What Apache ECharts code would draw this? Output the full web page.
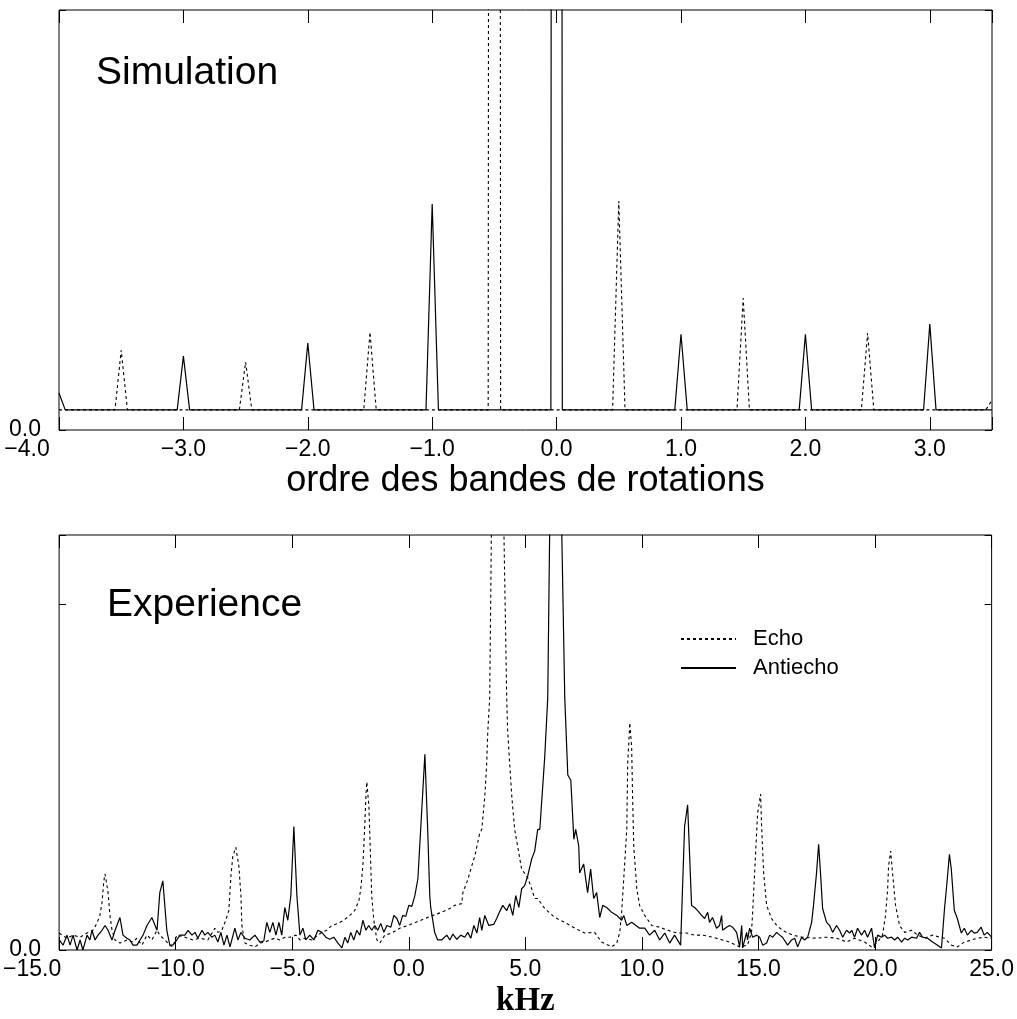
<!DOCTYPE html>
<html><head><meta charset="utf-8">
<script src="https://cdn.jsdelivr.net/npm/echarts@6/dist/echarts.min.js"></script>
<style>html,body{margin:0;padding:0;background:#fff}#c{width:1017px;height:1019px}</style>
</head><body><div id="c"></div>
<script>
// ---------- Simulation panel (x: rotational sideband order) ----------
const simTicks = [-4, -3, -2, -1, 0, 1, 2, 3];
const simEcho = [[-4.0,0.048],[-3.55,0.048],[-3.5,0.19],[-3.45,0.048],[-2.55,0.048],[-2.5,0.162],[-2.45,0.048],
  [-1.55,0.048],[-1.5,0.233],[-1.45,0.048],[-0.55,0.048],[-0.5,20],[-0.45,0.048],[0.45,0.048],[0.5,0.545],[0.55,0.048],
  [1.45,0.048],[1.5,0.314],[1.55,0.048],[2.45,0.048],[2.5,0.231],[2.55,0.048],[3.45,0.048],[3.5,0.071]];
const simAntiecho = [[-4.0,0.088],[-3.95,0.048],[-3.05,0.048],[-3.0,0.176],[-2.95,0.048],[-2.05,0.048],[-2.0,0.207],[-1.95,0.048],
  [-1.05,0.048],[-1.0,0.538],[-0.95,0.048],[-0.046,0.048],[0.0,20],[0.046,0.048],[0.95,0.048],[1.0,0.228],[1.05,0.048],
  [1.95,0.048],[2.0,0.228],[2.05,0.048],[2.95,0.048],[3.0,0.252],[3.05,0.048],[3.5,0.048]];

// ---------- Experiment panel (x: kHz) ----------
const expTicks = [-15, -10, -5, 0, 5, 10, 15, 20, 25];
const echoExp = [[-15.0,0.049],[-14.66,0.034],[-14.4,0.043],[-14.1,0.037],[-13.8,0.049],[-13.55,0.057],[-13.38,0.077],[-13.25,0.1],
  [-13.16,0.137],[-13.08,0.2],[-13.03,0.22],[-12.98,0.2],[-12.9,0.166],[-12.82,0.1],[-12.73,0.057],[-12.6,0.029],[-12.39,0.02],
  [-12.09,0.029],[-11.83,0.023],[-11.66,0.034],[-11.45,0.014],[-11.23,0.043],[-11.02,0.029],[-10.8,0.057],[-10.68,0.043],
  [-10.46,0.029],[-10.25,0.014],[-10.12,0.009],[-9.95,0.043],[-9.6,0.037],[-9.26,0.029],[-8.96,0.034],[-8.62,0.029],
  [-8.32,0.063],[-8.19,0.051],[-8.02,0.057],[-7.85,0.086],[-7.72,0.114],[-7.63,0.214],[-7.55,0.27],[-7.42,0.297],[-7.29,0.243],
  [-7.2,0.157],[-7.16,0.071],[-7.03,0.02],[-6.82,0.014],[-6.6,0.009],[-6.39,0.02],[-6.17,0.023],[-5.96,0.029],[-5.75,0.034],
  [-5.53,0.029],[-5.32,0.037],[-5.1,0.037],[-4.84,0.043],[-4.67,0.029],[-4.46,0.034],[-4.16,0.029],[-3.9,0.043],[-3.73,0.051],
  [-3.52,0.057],[-3.3,0.071],[-3.04,0.077],[-2.79,0.086],[-2.53,0.1],[-2.32,0.114],[-2.14,0.143],[-2.06,0.177],[-1.97,0.243],
  [-1.89,0.357],[-1.84,0.443],[-1.8,0.486],[-1.71,0.414],[-1.67,0.329],[-1.63,0.243],[-1.59,0.157],[-1.5,0.086],[-1.37,0.029],
  [-1.24,0.02],[-1.03,0.043],[-0.73,0.049],[-0.39,0.063],[-0.04,0.071],[0.3,0.08],[0.69,0.091],[1.03,0.1],[1.41,0.109],
  [1.76,0.12],[1.97,0.129],[2.27,0.134],[2.32,0.166],[2.53,0.203],[2.7,0.243],[2.83,0.271],[3.04,0.337],[3.13,0.349],
  [3.26,0.443],[3.34,0.537],[3.39,0.634],[3.47,0.729],[3.55,1.25],[3.7,3.0],[3.9,3.0],[4.07,1.25],[4.2,0.729],[4.24,0.634],
  [4.33,0.537],[4.42,0.443],[4.54,0.349],[4.84,0.234],[5.1,0.209],[5.27,0.177],[5.4,0.149],[5.53,0.149],[5.83,0.12],
  [6.26,0.094],[6.69,0.08],[7.12,0.063],[7.55,0.049],[7.97,0.051],[8.27,0.023],[8.7,0.009],[8.92,0.02],[9.05,0.051],
  [9.13,0.109],[9.22,0.206],[9.35,0.349],[9.39,0.537],[9.48,0.657],[9.56,0.586],[9.6,0.443],[9.65,0.3],[9.78,0.177],
  [9.9,0.129],[10.12,0.1],[10.42,0.071],[10.76,0.066],[11.1,0.057],[11.53,0.049],[11.92,0.049],[12.26,0.043],[12.6,0.043],
  [13.03,0.037],[13.46,0.029],[13.76,0.023],[14.19,0.009],[14.53,0.014],[14.7,0.051],[14.75,0.109],[14.87,0.271],[14.96,0.394],
  [15.09,0.451],[15.13,0.366],[15.22,0.223],[15.35,0.129],[15.56,0.091],[15.78,0.071],[16.03,0.057],[16.46,0.043],[16.89,0.037],
  [17.49,0.034],[17.92,0.037],[18.35,0.034],[18.78,0.023],[19.12,0.034],[19.55,0.023],[19.85,0.009],[20.11,0.023],[20.32,0.043],
  [20.45,0.1],[20.54,0.177],[20.58,0.243],[20.67,0.286],[20.75,0.223],[20.88,0.129],[21.05,0.071],[21.27,0.051],[21.57,0.057],
  [21.83,0.043],[22.13,0.034],[22.47,0.043],[22.77,0.037],[22.98,0.034],[23.28,0.014],[23.53,0.009],[23.83,0.023],[24.13,0.029],
  [24.38,0.034],[24.68,0.037],[25.0,0.034]];
const antiechoExp = [[-15.0,0.03],[-14.96,0.029],[-14.83,0.014],[-14.66,0.043],[-14.53,0.014],[-14.4,0.043],[-14.23,0.0],
  [-14.1,0.029],[-13.98,0.0],[-13.8,0.043],[-13.68,0.029],[-13.59,0.057],[-13.46,0.029],[-13.33,0.043],[-13.16,0.057],
  [-13.03,0.071],[-12.9,0.057],[-12.73,0.029],[-12.6,0.057],[-12.39,0.094],[-12.26,0.043],[-12.09,0.034],[-11.96,0.029],
  [-11.83,0.014],[-11.66,0.014],[-11.53,0.029],[-11.4,0.043],[-11.23,0.071],[-11.02,0.094],[-10.8,0.057],[-10.68,0.166],
  [-10.55,0.2],[-10.38,0.057],[-10.25,0.014],[-10.12,0.014],[-9.95,0.029],[-9.82,0.043],[-9.6,0.043],[-9.47,0.057],[-9.3,0.043],
  [-9.17,0.051],[-9.05,0.034],[-8.87,0.057],[-8.75,0.043],[-8.62,0.051],[-8.45,0.037],[-8.32,0.043],[-8.19,0.023],[-8.06,0.051],
  [-7.93,0.014],[-7.8,0.043],[-7.67,0.009],[-7.46,0.063],[-7.33,0.029],[-7.2,0.051],[-7.03,0.034],[-6.82,0.029],[-6.6,0.043],
  [-6.39,0.023],[-6.22,0.026],[-6.09,0.08],[-5.96,0.051],[-5.83,0.08],[-5.7,0.043],[-5.57,0.08],[-5.45,0.043],[-5.32,0.123],
  [-5.19,0.086],[-5.06,0.157],[-4.93,0.357],[-4.8,0.157],[-4.67,0.043],[-4.54,0.063],[-4.42,0.029],[-4.25,0.043],[-4.07,0.029],
  [-3.9,0.057],[-3.73,0.051],[-3.56,0.037],[-3.39,0.031],[-3.22,0.037],[-3.04,0.02],[-2.87,0.006],[-2.74,0.037],[-2.62,0.02],
  [-2.49,0.051],[-2.36,0.029],[-2.23,0.057],[-2.1,0.043],[-1.97,0.086],[-1.84,0.057],[-1.72,0.071],[-1.59,0.057],[-1.46,0.071],
  [-1.33,0.057],[-1.2,0.077],[-1.07,0.051],[-0.94,0.071],[-0.77,0.066],[-0.64,0.1],[-0.51,0.091],[-0.39,0.071],[-0.26,0.1],
  [-0.13,0.097],[0.0,0.129],[0.13,0.126],[0.26,0.157],[0.39,0.206],[0.51,0.349],[0.69,0.566],[0.81,0.349],[0.9,0.157],
  [0.94,0.123],[1.11,0.051],[1.24,0.029],[1.41,0.029],[1.63,0.043],[1.76,0.029],[1.89,0.046],[2.06,0.031],[2.23,0.043],
  [2.4,0.037],[2.53,0.051],[2.66,0.034],[2.79,0.071],[2.92,0.049],[3.04,0.094],[3.13,0.057],[3.26,0.1],[3.43,0.071],
  [3.64,0.074],[3.77,0.091],[3.9,0.111],[4.03,0.129],[4.2,0.114],[4.33,0.134],[4.46,0.1],[4.59,0.157],[4.72,0.123],
  [4.84,0.177],[4.97,0.186],[5.1,0.214],[5.27,0.263],[5.4,0.286],[5.53,0.349],[5.62,0.349],[5.83,0.557],[5.96,0.729],
  [6.05,1.25],[6.2,3.0],[6.4,3.0],[6.55,1.25],[6.69,0.729],[6.82,0.506],[6.95,0.491],[7.08,0.32],[7.16,0.349],[7.29,0.3],
  [7.33,0.223],[7.5,0.249],[7.67,0.166],[7.8,0.234],[7.93,0.149],[8.06,0.166],[8.19,0.094],[8.32,0.129],[8.49,0.123],
  [8.7,0.109],[8.92,0.1],[9.13,0.086],[9.22,0.1],[9.35,0.071],[9.56,0.08],[9.9,0.063],[10.12,0.063],[10.33,0.043],
  [10.55,0.057],[10.76,0.029],[10.98,0.049],[11.19,0.02],[11.4,0.043],[11.66,0.014],[11.83,0.357],[11.96,0.42],[12.13,0.129],
  [12.26,0.123],[12.39,0.114],[12.56,0.1],[12.69,0.091],[12.82,0.109],[12.9,0.08],[13.03,0.094],[13.2,0.063],
  [13.33,0.071],[13.42,0.1],[13.46,0.057],[13.63,0.066],[13.76,0.071],[13.89,0.066],[14.06,0.051],[14.19,0.009],[14.28,0.071],
  [14.32,0.006],[14.49,0.051],[14.53,0.029],[14.62,0.063],[14.75,0.037],[14.92,0.043],[15.05,0.037],[15.18,0.014],[15.35,0.02],
  [15.48,0.043],[15.61,0.037],[15.78,0.051],[15.91,0.043],[16.03,0.037],[16.25,0.014],[16.42,0.029],[16.55,0.034],[16.68,0.009],
  [16.85,0.037],[16.98,0.029],[17.11,0.037],[17.28,0.08],[17.36,0.129],[17.49,0.223],[17.58,0.306],[17.66,0.223],[17.75,0.12],
  [17.92,0.08],[18.05,0.071],[18.18,0.051],[18.35,0.071],[18.48,0.057],[18.61,0.037],[18.78,0.057],[18.91,0.049],[19.0,0.057],
  [19.12,0.037],[19.25,0.063],[19.42,0.043],[19.55,0.057],[19.68,0.037],[19.85,0.063],[19.98,0.006],[20.11,0.043],[20.28,0.037],
  [20.41,0.043],[20.54,0.034],[20.71,0.037],[20.84,0.029],[20.97,0.037],[21.14,0.023],[21.27,0.034],[21.4,0.029],[21.57,0.037],
  [21.78,0.034],[21.91,0.051],[22.04,0.037],[22.25,0.034],[22.47,0.023],[22.68,0.014],[22.85,0.006],[22.98,0.12],[23.1,0.206],
  [23.19,0.277],[23.27,0.234],[23.4,0.114],[23.53,0.091],[23.7,0.049],[23.83,0.063],[23.96,0.043],[24.13,0.057],[24.25,0.049],
  [24.38,0.051],[24.55,0.066],[24.68,0.043],[24.81,0.051],[25.0,0.037]];

const SANS = 'Liberation Sans, Arial, Helvetica, sans-serif';
const fmtNum = v => (v < 0 ? '\u2212' : '') + Math.abs(v).toFixed(1);
const yFmt = v => (v === 0 ? '0.0' : '');

function xAxes(gridIndex, min, max, interval, ticks, firstPad, name, nameStyle, nameGap) {
  const base = { type: 'value', gridIndex, min, max, interval,
    splitLine: { show: false }, axisLine: { show: false, onZero: false },
    axisTick: { show: true, inside: true, length: 13, lineStyle: { color: '#000', width: 1 } } };
  const fmt = v => {
    if (ticks.indexOf(v) < 0) return '';
    return v === ticks[0] ? '{first|' + fmtNum(v) + '}' : fmtNum(v);
  };
  return [
    Object.assign({}, base, { position: 'bottom', name, nameLocation: 'middle', nameGap, nameTextStyle: nameStyle,
      axisLabel: { show: true, formatter: fmt, color: '#000', fontSize: 23, fontFamily: SANS, margin: 8,
        rich: { first: { fontSize: 23, fontFamily: SANS, color: '#000', padding: [0, firstPad, 0, 0] } } } }),
    Object.assign({}, base, { position: 'top', axisLabel: { show: false } })
  ];
}
function yAxes(gridIndex, max, interval) {
  const base = { type: 'value', gridIndex, min: 0, max, interval,
    splitLine: { show: false }, axisLine: { show: false, onZero: false },
    axisTick: { show: true, inside: true, length: 7, lineStyle: { color: '#000', width: 1 } } };
  return [
    Object.assign({}, base, { position: 'left', axisLabel: { show: true, formatter: yFmt, color: '#000', fontSize: 23, fontFamily: SANS, margin: 18 } }),
    Object.assign({}, base, { position: 'right', axisLabel: { show: false } })
  ];
}

const dotted = { color: '#000', width: 1.1, type: [3, 3] };
const solid = { color: '#000', width: 1.2, type: 'solid' };

const option = {
  animation: false,
  backgroundColor: '#fff',
  title: [
    { text: 'Simulation', left: 96, top: 54, padding: 0,
      textStyle: { fontSize: 39, fontWeight: 'normal', fontFamily: SANS, color: '#000' } },
    { text: 'Experience', left: 107, top: 586, padding: 0,
      textStyle: { fontSize: 39, fontWeight: 'normal', fontFamily: SANS, color: '#000' } }
  ],
  legend: {
    data: ['Echo', 'Antiecho'], orient: 'vertical', left: 680, top: 628, padding: 0,
    itemWidth: 55, itemHeight: 12, itemGap: 7,
    itemStyle: { opacity: 0 },
    textStyle: { fontSize: 22, fontFamily: SANS, color: '#000', padding: [0, 0, 0, 12] }
  },
  grid: [
    { left: 59, top: 10, width: 933, height: 420, show: true, borderColor: '#000', borderWidth: 1, backgroundColor: 'transparent' },
    { left: 59, top: 535, width: 933, height: 420, show: true, borderColor: '#000', borderWidth: 1, backgroundColor: 'transparent' }
  ],
  xAxis: [
    ...xAxes(0, -4, 3.5, 1, simTicks, 64, 'ordre des bandes de rotations',
      { fontSize: 36, fontFamily: SANS, color: '#000' }, 33),
    ...xAxes(1, -15, 25, 5, expTicks, 54, 'kHz',
      { fontSize: 33, fontFamily: 'Liberation Serif, Times New Roman, serif', fontWeight: 'bold', color: '#000' }, 35)
  ],
  yAxis: [ ...yAxes(0, 1, 1), ...yAxes(1, 1.2, 1) ],
  series: [
    { name: 'Echo (simulation)', type: 'line', xAxisIndex: 0, yAxisIndex: 0, data: simEcho, showSymbol: false, symbol: 'none', lineStyle: dotted, itemStyle: { color: '#000' }, z: 3 },
    { name: 'Antiecho (simulation)', type: 'line', xAxisIndex: 0, yAxisIndex: 0, data: simAntiecho, showSymbol: false, symbol: 'none', lineStyle: solid, itemStyle: { color: '#000' }, z: 2 },
    { name: 'Echo', type: 'line', xAxisIndex: 2, yAxisIndex: 2, data: echoExp, showSymbol: false, symbol: 'none', lineStyle: dotted, itemStyle: { color: '#000' }, z: 3 },
    { name: 'Antiecho', type: 'line', xAxisIndex: 2, yAxisIndex: 2, data: antiechoExp, showSymbol: false, symbol: 'none', lineStyle: solid, itemStyle: { color: '#000' }, z: 2 }
  ]
};
const chart = echarts.init(document.getElementById('c'), null, { renderer: 'canvas' });
chart.setOption(option);
</script>
</body></html>
